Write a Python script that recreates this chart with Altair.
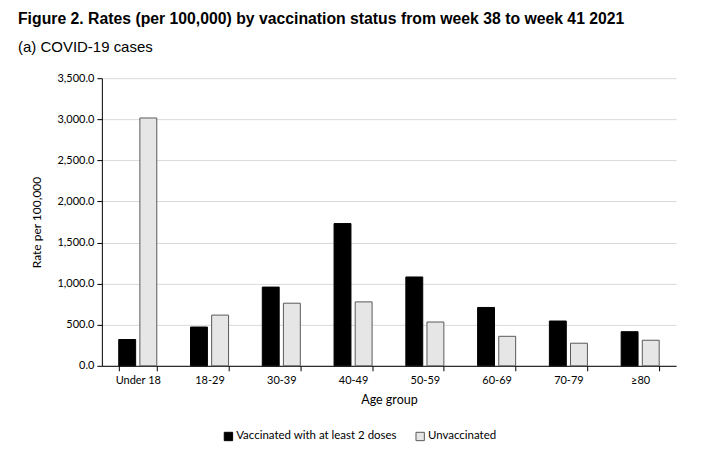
import altair as alt
import pandas as pd

age_groups = ["Under 18", "18-29", "30-39", "40-49", "50-59", "60-69", "70-79", "≥80"]
vaccinated = [320, 472, 958, 1731, 1081, 710, 545, 415]
unvaccinated = [3016, 617, 762, 778, 533, 359, 275, 311]
series = ["Vaccinated with at least 2 doses", "Unvaccinated"]

rows = []
for g, v, u in zip(age_groups, vaccinated, unvaccinated):
    rows.append({"age": g, "status": series[0], "rate": v})
    rows.append({"age": g, "status": series[1], "rate": u})
df = pd.DataFrame(rows)

FONT = "Lato"

chart = alt.Chart(df).mark_bar(strokeWidth=1).encode(
    x=alt.X("age:N", sort=age_groups,
            scale=alt.Scale(paddingInner=0.47, paddingOuter=0.235),
            axis=alt.Axis(title="Age group", labelAngle=0, tickBand="extent",
                          domainColor="black", tickColor="black", tickSize=5,
                          labelFont=FONT, labelFontSize=11, labelColor="black",
                          labelPadding=4, titleFont=FONT, titleFontSize=12.5,
                          titleFontWeight="normal", titleColor="black", titlePadding=8)),
    xOffset=alt.XOffset("status:N", sort=series, scale=alt.Scale(paddingInner=0.2)),
    y=alt.Y("rate:Q", scale=alt.Scale(domain=[0, 3500]),
            axis=alt.Axis(title="Rate per 100,000", values=[0, 500, 1000, 1500, 2000, 2500, 3000, 3500],
                          format=",.1f", domainColor="black", tickColor="black", tickSize=5,
                          gridColor="#d9d9d9", labelFont=FONT, labelFontSize=11, labelColor="black",
                          labelPadding=3, titleFont=FONT, titleFontSize=12, titleFontWeight="normal",
                          titleColor="black", titlePadding=13)),
    color=alt.Color("status:N", sort=series,
                    scale=alt.Scale(domain=series, range=["#000000", "#e6e6e6"]),
                    legend=alt.Legend(title=None, orient="none", legendX=121, legendY=353,
                                      direction="horizontal", symbolType="square",
                                      symbolSize=70, symbolStrokeColor="black", symbolStrokeWidth=1,
                                      labelFont=FONT, labelFontSize=11.5, labelColor="black",
                                      labelLimit=400, columnPadding=16, labelOffset=2)),
    stroke=alt.Stroke("status:N", sort=series,
                      scale=alt.Scale(domain=series, range=["#000000", "#595959"]),
                      legend=None),
).properties(
    width=575, height=288,
    title=alt.TitleParams(
        text="Figure 2. Rates (per 100,000) by vaccination status from week 38 to week 41 2021",
        subtitle="(a) COVID-19 cases",
        anchor="start", frame="group", dx=-84, offset=16,
        font="Liberation Sans", fontSize=15.8, fontWeight="bold", color="black",
        subtitleFont="Liberation Sans", subtitleFontSize=15, subtitleColor="black",
        subtitlePadding=12),
    autosize=alt.AutoSizeParams(type="none"),
    padding={"left": 94, "top": 70, "right": 40, "bottom": 80},
).configure_view(stroke=None)

chart.save("out.html", embed_options={"renderer": "svg", "actions": False})
